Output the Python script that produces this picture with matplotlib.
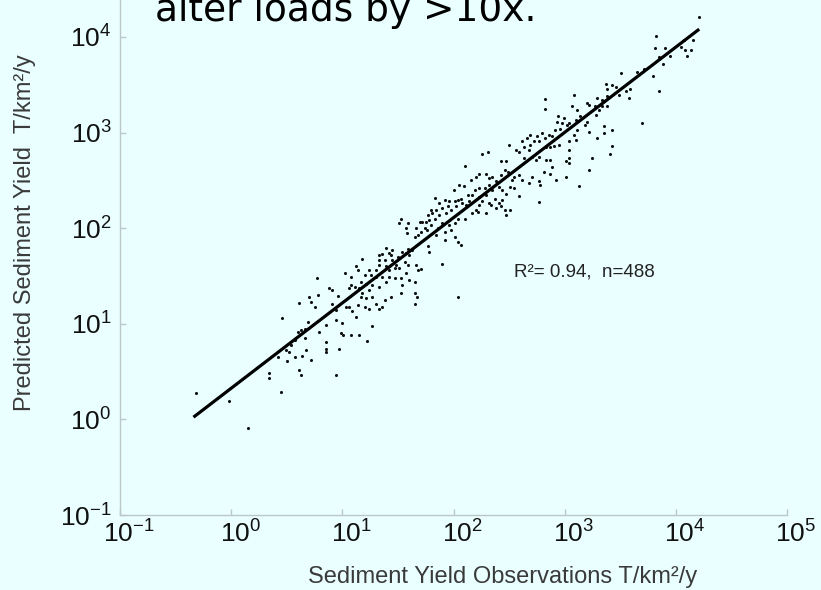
import numpy as np
from matplotlib import pyplot as plt
from matplotlib import ticker
from matplotlib.transforms import ScaledTranslation

plt.rcParams["font.family"] = ["Liberation Sans", "DejaVu Sans"]
plt.rcParams["mathtext.fontset"] = "custom"
plt.rcParams["mathtext.rm"] = "Liberation Sans"

obs_exp = [
    # low end (< 20 T/km2/y)
    -0.32, -0.02, 0.15, 0.45, 0.34, 0.34, 0.46, 0.61, 0.70, 0.78,
    0.72, 0.75, 0.91, 0.96, 0.94, 1.00, 0.94, 0.85, 0.79, 0.69,
    0.66, 0.63, 0.60, 0.66, 0.57, 0.54, 0.49, 0.52, 0.42, 0.50,
    0.57, 0.64, 0.67, 0.72, 0.61, 0.63, 0.85, 0.85, 0.85, 0.97,
    0.99, 1.01, 0.94, 1.03, 1.08, 1.15, 1.22, 0.77,
    # middle (10 - 200)
    2.10, 2.05, 2.09, 2.00, 2.13, 2.07, 2.04, 2.01, 1.96, 1.92,
    1.95, 1.90, 1.87, 1.83, 1.84, 1.80, 1.81, 1.77, 1.78, 1.87,
    1.83, 1.93, 1.98, 2.02, 2.08, 2.11, 2.14, 2.10, 2.04, 2.01,
    1.96, 1.98, 1.92, 1.92, 2.01, 2.04, 2.07, 1.90, 2.04, 1.75,
    1.72, 1.70, 1.74, 1.71, 1.76, 1.80, 1.66, 1.65, 1.68, 1.77,
    1.78, 1.84, 1.86, 1.90, 1.59, 1.57, 1.58, 1.53, 1.51, 1.59,
    1.57, 1.54, 1.50, 1.45, 1.42, 1.39, 1.44, 1.36, 1.33, 1.33,
    1.38, 1.45, 1.48, 1.47, 1.51, 1.56, 1.60, 1.63, 1.66, 1.68,
    1.71, 1.59, 1.57, 1.53, 1.60, 1.54, 1.65, 1.53, 1.65, 1.67,
    1.65, 1.44, 1.38, 1.27, 1.30, 1.36, 1.33, 1.24, 1.20, 1.14,
    1.06, 1.09, 1.12, 1.27, 0.88, 0.91, 1.06, 1.08, 1.11, 1.15,
    1.18, 1.21, 1.17, 1.24, 1.27, 1.33, 1.39, 1.36, 1.42, 1.47,
    1.30, 1.26, 1.20, 1.17, 1.21, 1.24, 1.30, 1.33, 1.39, 1.42,
    1.12, 1.14, 1.18, 1.02, 1.08,
    # upper middle (100 - 4000)
    3.51, 3.65, 3.37, 3.43, 3.46, 3.38, 3.59, 3.55, 3.49, 3.58,
    3.38, 3.34, 3.29, 3.08, 2.82, 2.82, 3.07, 3.11, 3.20, 3.22,
    3.27, 3.34, 3.38, 3.31, 3.28, 3.20, 3.18, 3.10, 3.14, 3.04,
    2.99, 2.94, 2.93, 3.02, 2.98, 2.96, 2.91, 2.86, 2.89, 2.82,
    2.80, 2.69, 2.75, 2.72, 2.69, 2.63, 2.68, 2.59, 2.56, 2.50,
    2.62, 2.66, 2.77, 2.83, 2.87, 2.90, 2.95, 3.04, 3.10, 3.08,
    3.11, 3.22, 3.29, 3.35, 3.35, 3.43, 3.43, 3.41, 3.25, 3.22,
    3.13, 3.04, 3.04, 3.01, 3.04, 2.87, 2.83, 2.77, 2.74, 2.71,
    2.63, 2.89, 2.81, 2.87, 2.77, 2.71, 2.68, 2.62, 2.59, 2.54,
    2.53, 2.49, 2.46, 2.43, 2.47, 2.43, 2.26, 2.31, 2.20, 2.16,
    2.23, 2.29, 2.32, 2.35, 2.38, 2.32, 2.28, 2.23, 2.19, 2.17,
    2.23, 2.29, 2.35, 2.41, 2.44, 2.47, 2.51, 2.54, 2.59, 2.44,
    2.41, 2.37, 2.34, 2.32, 2.26, 2.23, 2.20, 2.17, 2.22, 2.29,
    2.38, 2.43, 2.46, 2.47, 2.51, 2.77, 2.92, 3.01, 2.78,
    # top end
    4.21, 3.82, 3.81, 3.90, 4.08, 4.14, 4.10, 4.07, 3.85, 3.79,
    3.85, 3.71, 3.70, 3.95, 4.05, 3.88, 4.15,
]
pred_exp = [
    0.28, 0.19, -0.09, 0.29, 0.49, 0.43, 1.06, 1.22, 1.28, 1.30,
    1.23, 1.18, 1.21, 1.29, 1.14, 1.01, 1.04, 0.99, 0.91, 1.02,
    0.95, 0.94, 0.91, 0.85, 0.83, 0.78, 0.73, 0.71, 0.65, 0.61,
    0.65, 0.66, 0.73, 0.62, 0.52, 0.46, 0.81, 0.74, 0.70, 0.74,
    0.90, 0.88, 0.46, 1.18, 0.88, 0.88, 0.82, 1.48,
    2.65, 2.45, 2.44, 2.40, 2.35, 2.31, 2.30, 2.28, 2.28, 2.30,
    2.23, 2.21, 2.26, 2.32, 2.19, 2.19, 2.16, 2.14, 2.09, 2.14,
    2.10, 2.16, 2.19, 2.23, 2.26, 2.24, 2.28, 2.10, 2.10, 2.05,
    2.03, 1.98, 1.96, 1.88, 1.91, 1.86, 1.82, 1.63, 1.28, 2.07,
    2.07, 2.06, 2.00, 1.96, 1.98, 2.03, 2.00, 1.91, 1.93, 1.81,
    1.75, 1.93, 2.00, 2.05, 2.05, 2.00, 1.95, 2.10, 2.05, 1.78,
    1.74, 1.75, 1.70, 1.77, 1.74, 1.79, 1.72, 1.73, 1.72, 1.67,
    1.67, 1.67, 1.62, 1.58, 1.58, 1.65, 1.72, 1.77, 1.62, 1.56,
    1.57, 1.62, 1.53, 1.48, 1.46, 1.41, 1.44, 1.32, 1.32, 1.28,
    1.21, 1.28, 1.25, 1.28, 1.21, 1.18, 1.16, 1.16, 1.18, 1.20,
    1.18, 1.13, 1.07, 0.98, 1.37, 1.35, 1.37, 1.41, 1.39, 1.37,
    1.32, 1.27, 1.28, 1.35, 1.41, 1.39, 1.44, 1.49, 1.49, 1.48,
    1.49, 1.51, 1.51, 1.44, 1.42, 1.56, 1.56, 1.62, 1.60, 1.56,
    1.60, 1.56, 1.68, 1.53, 1.49,
    3.62, 3.63, 3.51, 3.50, 3.48, 3.46, 3.46, 3.43, 3.39, 3.36,
    3.38, 3.34, 3.36, 3.39, 3.35, 3.25, 3.28, 3.24, 3.31, 3.29,
    3.28, 3.28, 3.28, 3.24, 3.18, 3.11, 3.08, 3.13, 3.17, 3.10,
    3.15, 3.17, 3.11, 3.08, 3.10, 3.04, 3.03, 2.97, 2.96, 2.94,
    3.00, 2.97, 2.96, 2.91, 2.87, 2.85, 2.82, 2.80, 2.82, 2.87,
    2.91, 2.94, 2.91, 2.85, 2.85, 2.86, 2.87, 2.91, 2.92, 2.97,
    3.03, 3.01, 2.94, 3.07, 3.00, 3.03, 2.86, 2.78, 2.73, 2.61,
    2.44, 2.82, 2.73, 2.70, 2.68, 2.71, 2.71, 2.75, 2.71, 2.75,
    2.73, 2.64, 2.59, 2.57, 2.49, 2.54, 2.47, 2.50, 2.56, 2.54,
    2.50, 2.59, 2.61, 2.56, 2.70, 2.70, 2.78, 2.80, 2.54, 2.50,
    2.57, 2.57, 2.52, 2.54, 2.49, 2.45, 2.42, 2.42, 2.40, 2.35,
    2.33, 2.35, 2.40, 2.43, 2.40, 2.36, 2.43, 2.42, 2.34, 2.30,
    2.26, 2.31, 2.24, 2.26, 2.28, 2.24, 2.19, 2.16, 2.17, 2.16,
    2.21, 2.23, 2.19, 2.14, 2.19, 2.27, 2.50, 2.54, 2.45,
    4.21, 4.01, 3.88, 3.88, 3.86, 3.86, 3.80, 3.97, 3.79, 3.59,
    3.44, 3.67, 3.10, 3.80, 3.90, 3.72, 3.97,
]

# regression line end points
fit_x = [0.47, 15800]
fit_y = [1.08, 11800]

decades = [-1, 0, 1, 2, 3, 4, 5]
bg = "#eaffff"
axis_grey = "#bcc8c8"
text_grey = "#3a3a3a"

obs = 10 ** np.array(obs_exp)
pred = 10 ** np.array(pred_exp)

fig = plt.figure(figsize=(8.21, 5.9), dpi=100, facecolor=bg)
ax = fig.add_axes([0.1462, 0.1271, 0.8124, 0.8729], facecolor=bg)

ax.scatter(obs, pred, s=5, color="#111111", linewidths=0, zorder=3)
ax.plot(fit_x, fit_y, color="black", lw=2.3, zorder=4)

ax.set_xscale("log")
ax.set_yscale("log")
ax.set_xlim(0.1, 1e5)
ax.set_ylim(0.1, 10 ** 4.387)

ticks = [10.0 ** d for d in decades]
fmt = ticker.FuncFormatter(lambda v, p: r"$\mathregular{10^{%d}}$" % round(np.log10(v)))
for axis in (ax.xaxis, ax.yaxis):
    axis.set_major_locator(ticker.FixedLocator(ticks))
    axis.set_minor_locator(ticker.NullLocator())
    axis.set_major_formatter(fmt)
ax.set_yticks(ticks[:-1])

ax.tick_params(direction="in", length=4, width=1, color=axis_grey,
               labelsize=19, labelcolor="#111111")
ax.tick_params(axis="x", pad=4)
ax.tick_params(axis="y", pad=6)
# x labels sit a little right of their ticks in the original
shift = ScaledTranslation(9 / 100, 0, fig.dpi_scale_trans)
for lab in ax.get_xticklabels():
    lab.set_transform(lab.get_transform() + shift)

for side in ("top", "right"):
    ax.spines[side].set_visible(False)
for side in ("left", "bottom"):
    ax.spines[side].set_color(axis_grey)
    ax.spines[side].set_linewidth(1)

ax.text(10 ** 2.54, 10 ** 1.54, "R²= 0.94,  n=488", fontsize=13.5,
        va="center", ha="left", color="#222222")

fig.text(0.6127, 1 - 577 / 590, "Sediment Yield Observations T/km²/y",
         fontsize=17, ha="center", va="center", color=text_grey)
fig.text(25 / 821, 1 - 233 / 590, "Predicted Sediment Yield  T/km²/y",
         fontsize=17, ha="center", va="center", rotation=90, color=text_grey)

fig.text(155 / 821, 1 - 21 / 590, "alter loads by >10x.", fontsize=27,
         ha="left", va="baseline", family=["DejaVu Sans"])

plt.savefig("out.png", dpi=100, facecolor=bg)
